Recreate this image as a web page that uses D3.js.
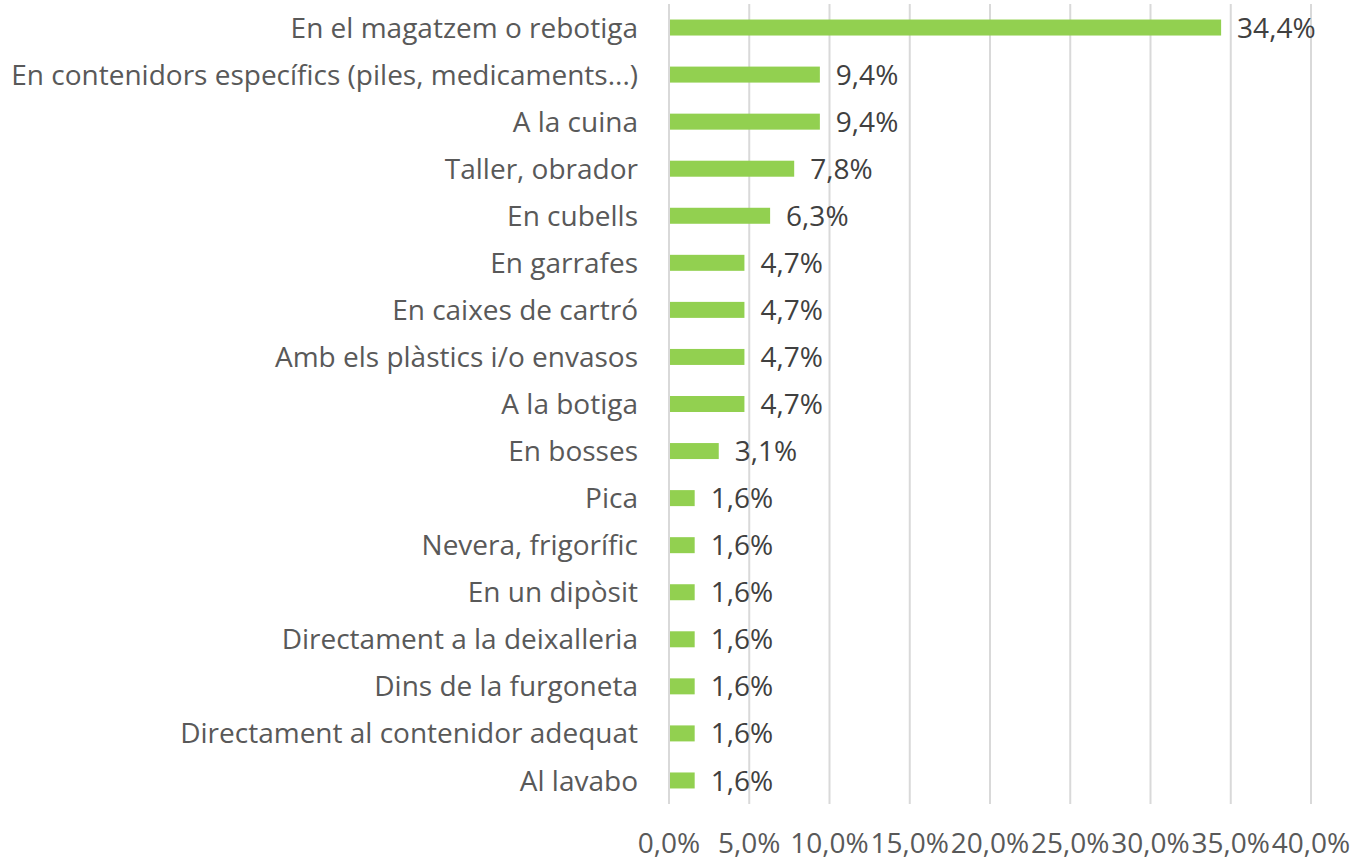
<!DOCTYPE html>
<html>
<head>
<meta charset="utf-8">
<script src="https://cdn.jsdelivr.net/npm/d3@7.9.0/dist/d3.min.js"></script>
<style>
  body { margin: 0; background: #fff; }
  svg text { font-family: "Open Sans", "Noto Sans", sans-serif; }
</style>
</head>
<body>
<svg id="chart" width="1357" height="862"></svg>
<script>
const categories = [
  'En el magatzem o rebotiga',
  'En contenidors específics (piles, medicaments...)',
  'A la cuina',
  'Taller, obrador',
  'En cubells',
  'En garrafes',
  'En caixes de cartró',
  'Amb els plàstics i/o envasos',
  'A la botiga',
  'En bosses',
  'Pica',
  'Nevera, frigorífic',
  'En un dipòsit',
  'Directament a la deixalleria',
  'Dins de la furgoneta',
  'Directament al contenidor adequat',
  'Al lavabo'
];
const values = [34.4, 9.4, 9.4, 7.8, 6.3, 4.7, 4.7, 4.7, 4.7, 3.1, 1.6, 1.6, 1.6, 1.6, 1.6, 1.6, 1.6];
const ticks = [0, 5, 10, 15, 20, 25, 30, 35, 40];

const fmt = v => v.toFixed(1).replace('.', ',') + '%';

const svg = d3.select('#chart');
const plotLeft = 669, plotRight = 1311, plotTop = 4, plotBottom = 804;
const fontSize = 28;

const x = d3.scaleLinear().domain([0, 40]).range([plotLeft, plotRight]);
const y = d3.scaleBand().domain(categories).range([plotTop, plotBottom]).paddingInner(0.66).paddingOuter(0.33);

// gridlines
svg.append('g')
  .selectAll('line')
  .data(ticks)
  .join('line')
  .attr('x1', d => x(d)).attr('x2', d => x(d))
  .attr('y1', plotTop).attr('y2', plotBottom)
  .attr('stroke', '#d9d9d9')
  .attr('stroke-width', 2);

// bars
svg.append('g')
  .selectAll('rect')
  .data(values)
  .join('rect')
  .attr('x', x(0) + 1)
  .attr('y', (d, i) => y(categories[i]))
  .attr('width', d => x(d) - x(0) - 1)
  .attr('height', y.bandwidth())
  .attr('fill', '#92d050');

// value labels
svg.append('g')
  .selectAll('text')
  .data(values)
  .join('text')
  .attr('x', d => x(d) + 16)
  .attr('y', (d, i) => y(categories[i]) + y.bandwidth() / 2)
  .attr('dy', '0.36em')
  .attr('font-size', fontSize)
  .attr('fill', '#404040')
  .text(fmt);

// category labels
svg.append('g')
  .selectAll('text')
  .data(categories)
  .join('text')
  .attr('x', 638)
  .attr('y', d => y(d) + y.bandwidth() / 2)
  .attr('dy', '0.36em')
  .attr('text-anchor', 'end')
  .attr('font-size', fontSize)
  .attr('fill', '#595959')
  .text(d => d);

// x tick labels
svg.append('g')
  .selectAll('text')
  .data(ticks)
  .join('text')
  .attr('x', d => x(d))
  .attr('y', 853)
  .attr('text-anchor', 'middle')
  .attr('font-size', fontSize)
  .attr('fill', '#595959')
  .text(d => fmt(d));
</script>
</body>
</html>
